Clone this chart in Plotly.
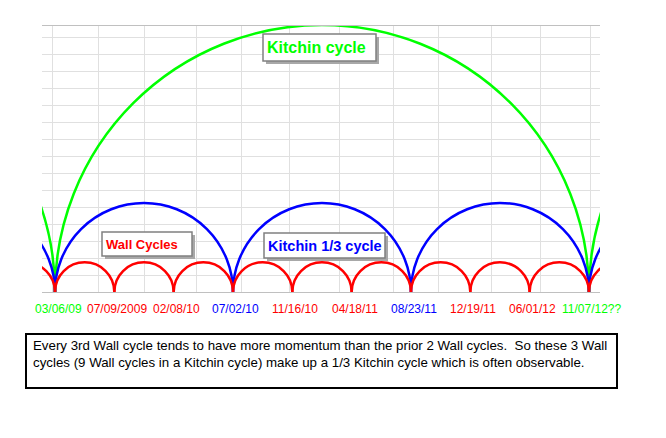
import plotly.graph_objects as go

# trough dates under the axis (one per Wall cycle low)
dates = ["03/06/09", "07/09/2009", "02/08/10", "07/02/10", "11/16/10",
         "04/18/11", "08/23/11", "12/19/11", "06/01/12", "11/07/12??"]
date_kind = ["kitchin", "wall", "wall", "third", "wall",
             "wall", "third", "wall", "wall", "kitchin"]
trough_pos = [0, 1, 2, 3, 4, 5, 6, 7, 8, 9]

# cycle lows, in Wall-cycle units (arcs run between neighbours)
wall_troughs = [-1, 0, 1, 2, 3, 4, 5, 6, 7, 8, 9, 10]
third_troughs = [-3, 0, 3, 6, 9, 12]
kitchin_troughs = [-9, 0, 9, 18]

# unlabeled sheet columns behind the chart
grid_cols = [-0.05, 0.74, 1.50, 2.39, 3.15, 3.96, 4.80, 5.70, 6.46, 7.35, 8.19, 9.02]

COLORS = {"wall": "#ff0000", "third": "#0000ff", "kitchin": "#00ff00"}
FONT = "Arial, Liberation Sans, sans-serif"

# page has an 8px body margin, so the figure starts at (8, 8) in the window
OFF = 8
W, H = 666 - OFF, 438 - OFF
L, T, R, B = 42, 26, 600, 292  # plot area in window pixels
UNIT = 59.33  # pixels per Wall cycle (same on both axes -> round arcs)


def px(x):
    return (x - L) / (R - L)


def py(y):
    return (B - y) / (B - T)


fig = go.Figure()

# invisible anchor trace so the axes are drawn
fig.add_trace(go.Scatter(x=trough_pos, y=[0] * len(trough_pos), mode="markers",
                         marker=dict(opacity=0), hoverinfo="skip", showlegend=False))

shapes = []
for troughs, kind in [(kitchin_troughs, "kitchin"), (third_troughs, "third"), (wall_troughs, "wall")]:
    for a, b in zip(troughs[:-1], troughs[1:]):
        r = (b - a) / 2
        shapes.append(dict(type="circle", xref="x", yref="y", x0=a, x1=b, y0=-r, y1=r,
                           line=dict(color=COLORS[kind], width=2.5), layer="above"))

annotations = []
for pos, d, kind in zip(trough_pos, dates, date_kind):
    annotations.append(dict(text=d, x=pos, xref="x", y=0, yref="paper", xanchor="center",
                            yanchor="top", yshift=-8, xshift=3, showarrow=False,
                            font=dict(size=12, family=FONT, color=COLORS[kind])))

# label boxes with drop shadow
boxes = [
    ("Kitchin cycle", "kitchin", 263, 34, 376, 61, 16),
    ("Wall Cycles", "wall", 102, 232, 192, 256, 13),
    ("Kitchin 1/3 cycle", "third", 264, 233, 385, 258, 14.5),
]
for text, kind, x0, y0, x1, y1, fs in boxes:
    shapes.append(dict(type="rect", xref="paper", yref="paper",
                       x0=px(x0 + 3), x1=px(x1 + 3), y0=py(y0 + 3), y1=py(y1 + 3),
                       fillcolor="#a8a8a8", line=dict(width=0), layer="above"))
    shapes.append(dict(type="rect", xref="paper", yref="paper",
                       x0=px(x0), x1=px(x1), y0=py(y0), y1=py(y1),
                       fillcolor="white", line=dict(color="#808080", width=1.5), layer="above"))
    annotations.append(dict(text="<b>%s</b>" % text, xref="paper", yref="paper",
                            x=px(x0 + 2), y=py((y0 + y1) / 2), xanchor="left", yanchor="middle",
                            showarrow=False, font=dict(size=fs, family=FONT, color=COLORS[kind])))

# note box at the bottom
shapes.append(dict(type="rect", xref="paper", yref="paper",
                   x0=px(26), x1=px(617), y0=py(334), y1=py(388),
                   fillcolor="white", line=dict(color="black", width=2)))
annotations.append(dict(
    text="Every 3rd Wall cycle tends to have more momentum than the prior 2 Wall cycles.  So these 3 Wall<br>"
         "cycles (9 Wall cycles in a Kitchin cycle) make up a 1/3 Kitchin cycle which is often observable.",
    xref="paper", yref="paper", x=px(31), y=py(336), xanchor="left", yanchor="top", align="left",
    showarrow=False, font=dict(size=13.3, family=FONT, color="black")))

fig.update_layout(
    width=W, height=H,
    margin=dict(l=L - OFF, r=W - (R - OFF), t=T - OFF, b=H - (B - OFF), pad=0),
    paper_bgcolor="white", plot_bgcolor="white",
    showlegend=False,
    shapes=shapes,
    annotations=annotations,
    xaxis=dict(range=[(L - 55) / UNIT, (R - 55) / UNIT], showgrid=False, zeroline=False,
               showticklabels=False, ticks="", showline=True, mirror=True,
               linecolor="#c0c0c0", linewidth=1,
               minor=dict(tickvals=grid_cols, showgrid=True, gridcolor="#e0e0e0", gridwidth=1, ticks="")),
    yaxis=dict(range=[0, (B - T) / UNIT], dtick=17 / UNIT, tick0=0, showgrid=True,
               gridcolor="#e0e0e0", gridwidth=1, zeroline=False, showticklabels=False, ticks="",
               showline=False),
)

fig.write_html("out.html")
